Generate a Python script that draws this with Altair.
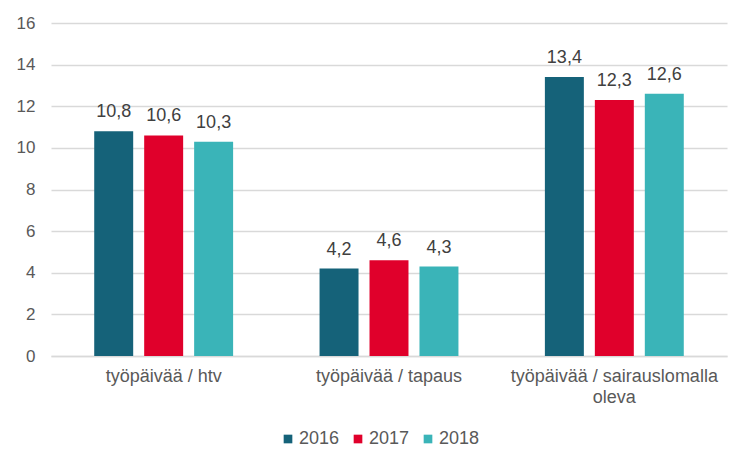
import altair as alt
import pandas as pd

categories = ["työpäivää / htv", "työpäivää / tapaus", "työpäivää / sairauslomalla oleva"]
years = ["2016", "2017", "2018"]
values_2016 = [10.8, 4.2, 13.4]
values_2017 = [10.6, 4.6, 12.3]
values_2018 = [10.3, 4.3, 12.6]
colors = ["#156279", "#E0002B", "#3AB4B8"]

rows = []
for yr, vals in zip(years, [values_2016, values_2017, values_2018]):
    for c, v in zip(categories, vals):
        rows.append({"category": c, "year": yr, "value": v})
df = pd.DataFrame(rows)

FONT = "Liberation Sans"
TXT = "#595959"

x = alt.X(
    "category:N",
    sort=categories,
    scale=alt.Scale(paddingInner=0, paddingOuter=0),
    axis=alt.Axis(
        title=None, labelAngle=0, ticks=False, grid=False,
        domainColor="#d9d9d9", domainWidth=1.5,
        labelFont=FONT, labelFontSize=18, labelColor=TXT,
        labelPadding=11, labelLineHeight=21, labelLimit=400,
        labelExpr="datum.label == 'työpäivää / sairauslomalla oleva' ? ['työpäivää / sairauslomalla', 'oleva'] : datum.label",
    ),
)
xo = alt.XOffset("year:N", sort=years,
                 scale=alt.Scale(paddingInner=0.22, paddingOuter=0.865))
y = alt.Y(
    "value:Q",
    scale=alt.Scale(domain=[0, 16]),
    axis=alt.Axis(
        title=None, values=list(range(0, 17, 2)), domain=False, ticks=False,
        gridColor="#d9d9d9", gridWidth=1.5,
        labelFont=FONT, labelFontSize=17, labelColor=TXT, labelPadding=16,
    ),
)

base = alt.Chart(df).encode(x=x, xOffset=xo, y=y)

bars = base.mark_bar().encode(
    color=alt.Color(
        "year:N", sort=years,
        scale=alt.Scale(domain=years, range=colors),
        legend=alt.Legend(
            title=None, orient="none", direction="horizontal",
            legendX=228, legendY=407,
            symbolType="square", symbolSize=75, symbolStrokeWidth=0,
            labelFont=FONT, labelFontSize=18, labelColor=TXT,
            labelOffset=2, columnPadding=9,
        ),
    )
)

labels = base.mark_text(
    font=FONT, fontSize=18, color="#404040", baseline="middle", dy=-19
).transform_calculate(
    lbl="replace(format(datum.value, '.1f'), '.', ',')"
).encode(text="lbl:N")

chart = (
    alt.layer(bars, labels)
    .properties(width=676, height=333, padding={"left": 8, "top": 6, "right": 5, "bottom": 5})
    .configure_view(stroke=None)
)

chart.save("out.html", embed_options={"renderer": "svg", "actions": False})
